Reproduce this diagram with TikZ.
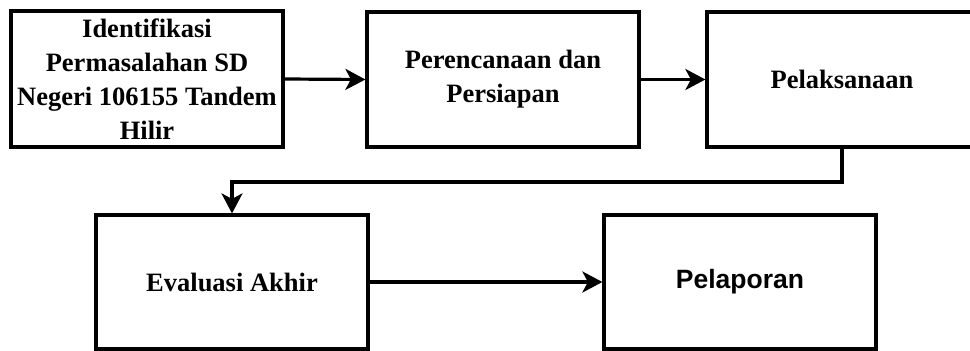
\documentclass[tikz,border=0pt]{standalone}
\usepackage{fontspec}
\setmainfont{Liberation Serif}
\newfontfamily\arialbold{Liberation Sans}[BoldFont={* Bold}]
\usetikzlibrary{arrows.meta}

\begin{document}
\begin{tikzpicture}[x=1pt, y=-1pt,
  box/.style={draw=black, line width=3.2pt, fill=white, inner sep=0pt,
    align=center, font=\fontsize{26.5}{34}\selectfont\bfseries},
  flow/.style={draw=black, line width=3.2pt,
    -{Stealth[length=20pt, width=21pt, inset=5.5pt]}}]
  \useasboundingbox (0,0) rectangle (970,351);

  % top row
  \node[box, minimum width=272pt, minimum height=136pt] (ident) at (147,79)
    {Identifikasi\\Permasalahan SD\\Negeri 106155 Tandem\\Hilir};
  \node[box, minimum width=272pt, minimum height=135pt] (plan) at (503,79.5)
    {Perencanaan dan\\Persiapan};
  \node[box, minimum width=270pt, minimum height=135pt] (exec) at (842,79.5)
    {Pelaksanaan};

  % bottom row
  \node[box, minimum width=272pt, minimum height=134pt] (eval) at (232,282)
    {Evaluasi Akhir};
  \node[box, minimum width=272pt, minimum height=134pt,
    font=\fontsize{26.5}{34}\arialbold\bfseries] (report) at (740,282)
    {Pelaporan};

  % connectors
  \coordinate (turn) at (842,182);
  \draw[flow] (ident.east) -- (plan.west);
  \draw[flow] (plan.east) -- (exec.west);
  \draw[flow] (exec.south) -- (turn) -| (eval.north);
  \draw[flow] (eval.east) -- (report.west);
\end{tikzpicture}
\end{document}
